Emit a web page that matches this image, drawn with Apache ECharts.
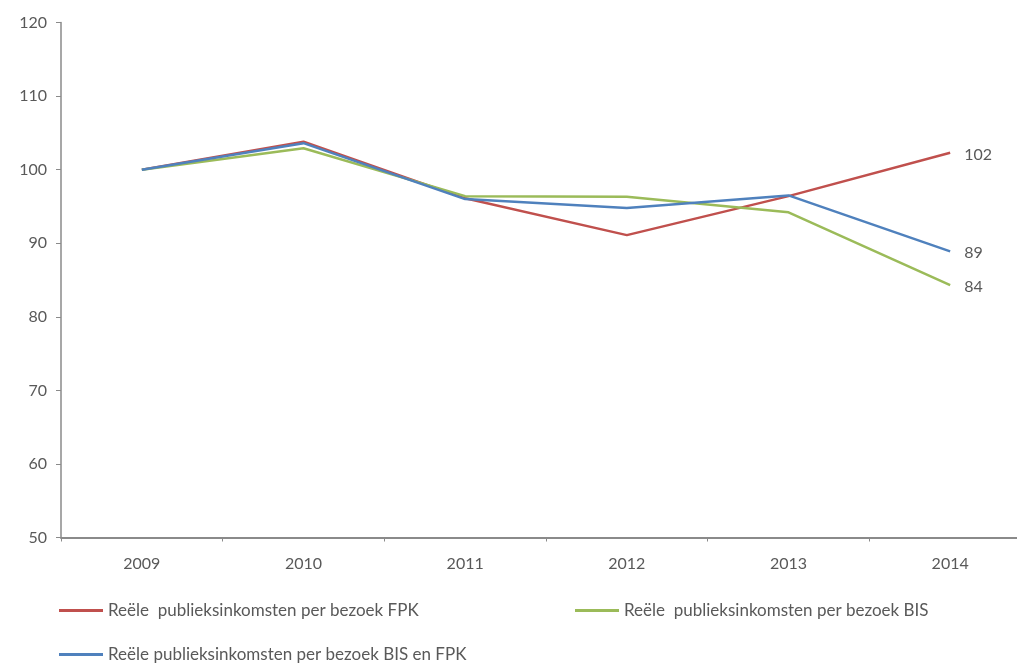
<!DOCTYPE html>
<html>
<head>
<meta charset="utf-8">
<script src="https://cdn.jsdelivr.net/npm/echarts@6/dist/echarts.min.js"></script>
<style>
  html, body { margin: 0; padding: 0; background: #fff; }
  #chart { width: 1017px; height: 664px; }
</style>
</head>
<body>
<div id="chart"></div>
<script>
const years = ["2009", "2010", "2011", "2012", "2013", "2014"];
const fpk = [100, 103.8, 96.1, 91.1, 96.4, 102.3];
const bis = [100, 102.9, 96.4, 96.3, 94.2, 84.3];
const bisFpk = [100, 103.6, 96.0, 94.8, 96.5, 88.9];
const names = [
  "Reële  publieksinkomsten per bezoek FPK",
  "Reële  publieksinkomsten per bezoek BIS",
  "Reële publieksinkomsten per bezoek BIS en FPK",
];

const chart = echarts.init(document.getElementById("chart"));
const font = "Lato, 'Open Sans', sans-serif";
const textColor = "#595959";

function makeSeries(name, data, color) {
  return {
    name: name,
    type: "line",
    data: data,
    symbol: "none",
    lineStyle: { color: color, width: 2.5 },
    itemStyle: { color: color },
    endLabel: {
      show: true,
      distance: 14,
      offset: [0, 2],
      color: textColor,
      fontFamily: font,
      fontSize: 16,
      formatter: (p) => Math.round(p.value),
    },
  };
}

function makeLegend(name, left, top) {
  return {
    data: [name],
    left: left,
    top: top,
    icon: "rect",
    itemWidth: 44,
    itemHeight: 3,
    padding: 0,
    textStyle: { color: textColor, fontFamily: font, fontSize: 17 },
  };
}

const option = {
  animation: false,
  grid: { left: 61, top: 22.5, width: 970, bottom: 126.5, outerBoundsMode: "none" },
  legend: [
    makeLegend(names[0], 59, 602),
    makeLegend(names[1], 575, 602),
    makeLegend(names[2], 59, 646),
  ],
  xAxis: {
    type: "category",
    data: years,
    axisLine: { lineStyle: { color: "#8a8a8a", width: 2 } },
    axisTick: { show: true, length: 4, lineStyle: { color: "#8a8a8a" } },
    axisLabel: { color: textColor, fontFamily: font, fontSize: 16, margin: 18 },
  },
  yAxis: {
    type: "value",
    min: 50,
    max: 120,
    interval: 10,
    splitLine: { show: false },
    axisLine: { show: true, lineStyle: { color: "#8a8a8a", width: 1.5 } },
    axisTick: { show: true, length: 5, lineStyle: { color: "#8a8a8a" } },
    axisLabel: { color: textColor, fontFamily: font, fontSize: 16, margin: 14 },
  },
  series: [
    makeSeries(names[0], fpk, "#c0504d"),
    makeSeries(names[1], bis, "#9bbb59"),
    makeSeries(names[2], bisFpk, "#4f81bd"),
  ],
};

chart.setOption(option);
</script>
</body>
</html>
